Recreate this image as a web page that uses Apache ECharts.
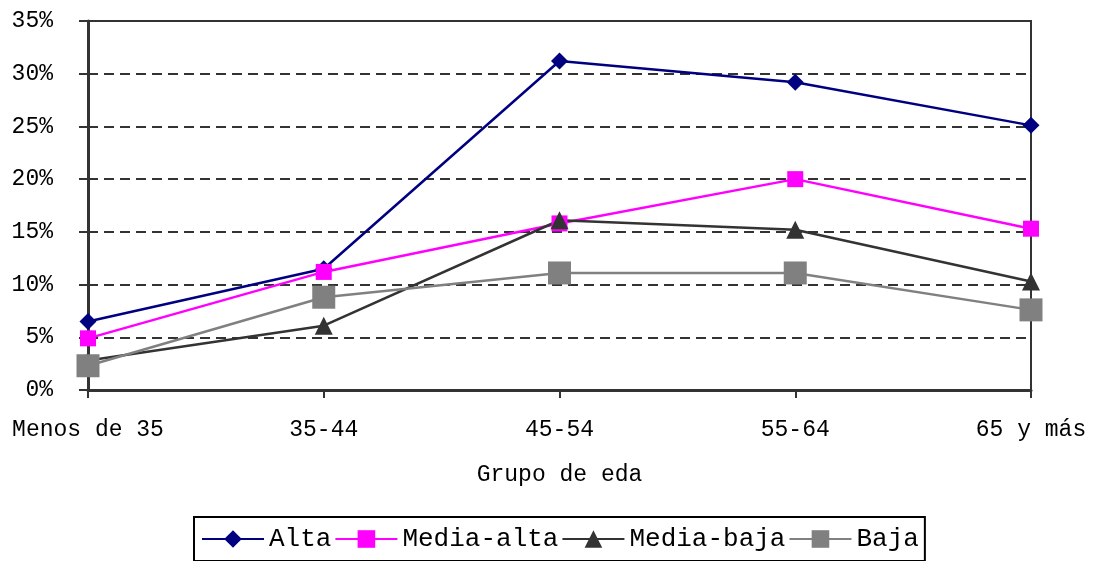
<!DOCTYPE html>
<html>
<head>
<meta charset="utf-8">
<script src="https://cdn.jsdelivr.net/npm/echarts@6/dist/echarts.min.js"></script>
<style>
  html, body { margin: 0; padding: 0; background: #fff; }
  #chart { width: 1093px; height: 561px; }
</style>
</head>
<body>
<div id="chart"></div>
<script>
// Age groups on the horizontal axis
const categories = ['Menos de 35', '35-44', '45-54', '55-64', '65 y más'];

// Share (%) of each level within every age group
const alta       = [6.5, 11.5, 31.2, 29.2, 25.1];
const mediaAlta  = [4.9, 11.2, 15.8, 20.0, 15.3];
const mediaBaja  = [2.8, 6.1, 16.1, 15.2, 10.3];
const baja       = [2.3, 8.8, 11.1, 11.1, 7.6];

const FONT = 'Liberation Mono';
const AXIS_COLOR = '#333333';

function lineSeries(name, data, color, symbol, size) {
  return {
    name: name,
    type: 'line',
    data: data,
    symbol: symbol,
    symbolSize: size,
    showAllSymbol: true,
    lineStyle: { color: color, width: 2.5 },
    itemStyle: { color: color, borderWidth: 0 },
    emphasis: { disabled: true },
    animation: false
  };
}

const chart = echarts.init(document.getElementById('chart'), null, { renderer: 'canvas' });
chart.setOption({
  backgroundColor: '#ffffff',
  textStyle: { fontFamily: FONT },
  grid: {
    left: 88, right: 62, top: 21, bottom: 171,
    show: true, borderColor: AXIS_COLOR, borderWidth: 2, backgroundColor: 'transparent'
  },
  legend: {
    left: 194, top: 517,
    data: ['Alta', 'Media-alta', 'Media-baja', 'Baja'],
    itemWidth: 62, itemHeight: 22, itemGap: 3,
    padding: [9, 6, 9, 7],
    borderColor: '#000000', borderWidth: 2,
    textStyle: { fontFamily: FONT, fontSize: 26, color: '#000000' }
  },
  xAxis: {
    type: 'category',
    data: categories,
    boundaryGap: false,
    name: 'Grupo de eda',
    nameLocation: 'middle',
    nameGap: 73,
    nameTextStyle: { fontFamily: FONT, fontSize: 23, color: '#000000' },
    axisLine: { lineStyle: { color: AXIS_COLOR, width: 3 } },
    axisTick: { show: true, inside: false, length: 8, alignWithLabel: true,
                lineStyle: { color: AXIS_COLOR, width: 2 } },
    axisLabel: { fontFamily: FONT, fontSize: 23, color: '#000000', margin: 28,
                 interval: 0, showMinLabel: true, showMaxLabel: true },
    splitLine: { show: false }
  },
  yAxis: {
    type: 'value',
    min: 0, max: 35, interval: 5,
    axisLine: { show: true, lineStyle: { color: AXIS_COLOR, width: 3 } },
    axisTick: { show: true, inside: false, length: 9, lineStyle: { color: AXIS_COLOR, width: 2 } },
    axisLabel: { fontFamily: FONT, fontSize: 23, color: '#000000', margin: 35,
                 formatter: v => v + '%' },
    splitLine: { show: true, lineStyle: { color: AXIS_COLOR, width: 2, type: [10, 6] } }
  },
  series: [
    lineSeries('Alta', alta, '#000080', 'diamond', 17),
    lineSeries('Media-alta', mediaAlta, '#ff00ff', 'rect', 16),
    lineSeries('Media-baja', mediaBaja, '#333333', 'triangle', 18),
    lineSeries('Baja', baja, '#808080', 'rect', 23)
  ]
});
</script>
</body>
</html>
